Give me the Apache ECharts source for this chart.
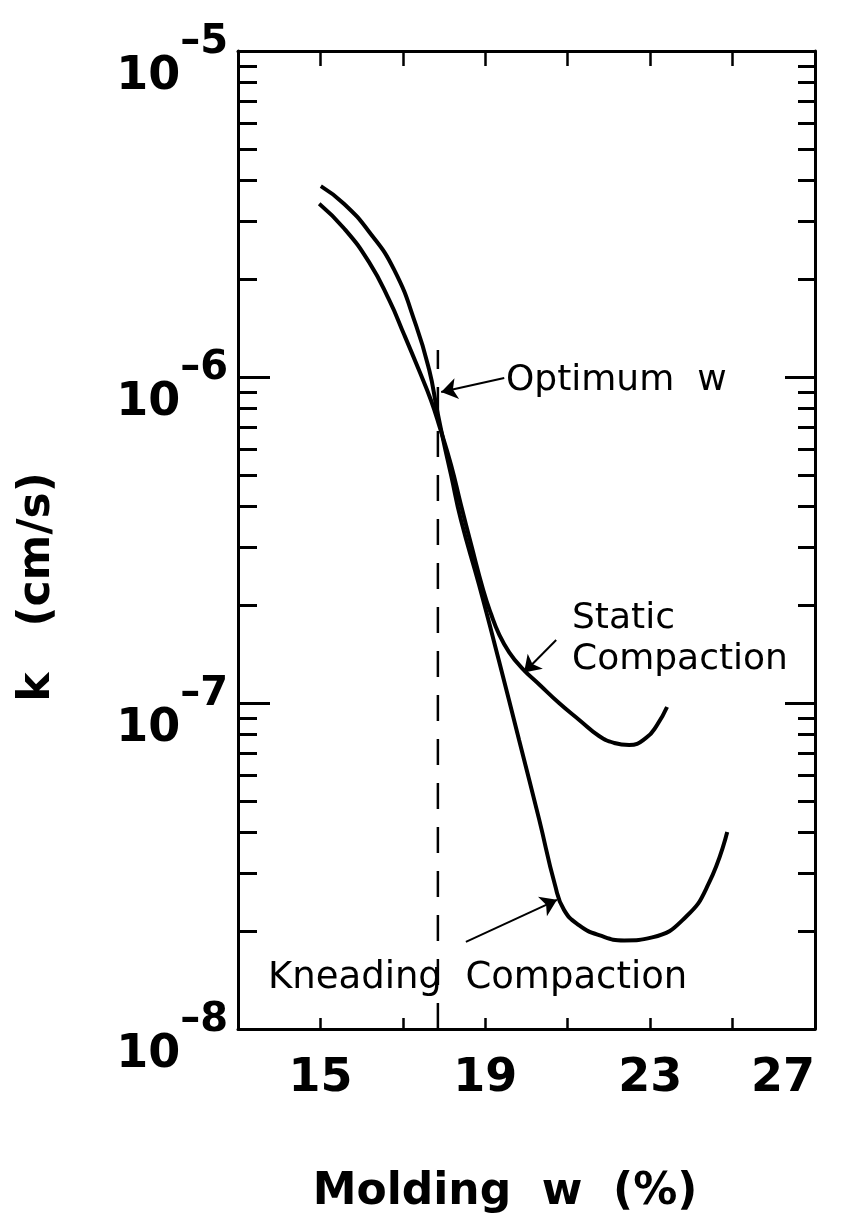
<!DOCTYPE html>
<html><head><meta charset="utf-8">
<script src="https://cdn.jsdelivr.net/npm/echarts@6/dist/echarts.min.js"></script>
<style>html,body{margin:0;padding:0;background:#fff}#c{width:845px;height:1224px}</style>
</head><body><div id="c"></div>
<script>
// ---- data ----
const staticW = [14.97, 15.57, 16.18, 16.67, 17.03, 17.39, 17.68, 17.90, 18.17, 18.41, 18.66, 18.95, 19.14, 19.33, 19.58, 19.89, 20.31, 20.79, 21.28, 21.76, 22.13, 22.49, 22.90, 23.17, 23.41];
const staticK = [3.40e-6, 2.86e-6, 2.25e-6, 1.72e-6, 1.35e-6, 1.05e-6, 8.5e-7, 6.98e-7, 5.37e-7, 4.05e-7, 3.05e-7, 2.22e-7, 1.875e-7, 1.63e-7, 1.43e-7, 1.28e-7, 1.14e-7, 1.0e-7, 8.87e-8, 7.92e-8, 7.54e-8, 7.43e-8, 7.81e-8, 8.57e-8, 9.72e-8];
const kneadW = [15.01, 15.57, 16.18, 16.79, 17.32, 17.64, 17.83, 17.98, 18.17, 18.41, 18.85, 19.33, 19.82, 20.31, 20.69, 20.91, 21.28, 21.76, 22.37, 23.05, 23.87, 24.43, 24.87];
const kneadK = [3.85e-6, 3.40e-6, 2.79e-6, 2.13e-6, 1.44e-6, 1.05e-6, 7.92e-7, 6.41e-7, 5.0e-7, 3.64e-7, 2.30e-7, 1.35e-7, 7.70e-8, 4.38e-8, 2.77e-8, 2.32e-8, 2.08e-8, 1.94e-8, 1.87e-8, 1.91e-8, 2.21e-8, 2.81e-8, 4.02e-8];
const optimumW = 17.85;
const optimumLineK = [1e-8, 1.21e-6];
const optimumArrow = [[19.46, 9.93e-7], [17.93, 8.99e-7]];
const staticArrow = [[20.72, 1.56e-7], [19.94, 1.24e-7]];
const kneadArrow = [[18.53, 1.85e-8], [20.74, 2.49e-8]];
const xTickValues = [15, 17, 19, 21, 23, 25];
const xLabelValues = [15, 19, 23, 27];
const minorDecades = [-8, -7, -6];
const minorMantissas = [2, 3, 4, 5, 6, 7, 8, 9];
const xName = 'Molding  w  (%)';
const yName = 'k   (cm/s)';
const optimumText = 'Optimum  w';
const staticText1 = 'Static';
const staticText2 = 'Compaction';
const kneadText = 'Kneading  Compaction';

// ---- chart ----
const FONT = "'DejaVu Sans', sans-serif";
const minorVals = [];
minorDecades.forEach(d => minorMantissas.forEach(m => minorVals.push(m * Math.pow(10, d))));
const zip = (a, b) => a.map((v, i) => [v, b[i]]);
const lineAxis = {lineStyle: {color: '#000', width: 3}};

const chart = echarts.init(document.getElementById('c'), null, {renderer: 'canvas'});
const yBase = {type: 'log', logBase: 10, min: 1e-8, max: 1e-5, splitLine: {show: false}};
chart.setOption({
  backgroundColor: '#fff',
  animation: false,
  grid: {left: 238, right: 30, top: 51, bottom: 195},
  xAxis: [
    {type: 'value', position: 'bottom', min: 13, max: 27, splitLine: {show: false},
     axisLine: lineAxis,
     axisTick: {inside: true, length: 11, customValues: xTickValues, lineStyle: {color: '#000', width: 2.5}},
     axisLabel: {customValues: xLabelValues, color: '#000', fontFamily: FONT, fontWeight: 'bold',
                 fontSize: 46, margin: 27, alignMaxLabel: 'right'}},
    {type: 'value', position: 'top', min: 13, max: 27, splitLine: {show: false},
     axisLine: lineAxis,
     axisTick: {inside: true, length: 15, customValues: xTickValues, lineStyle: {color: '#000', width: 2.5}},
     axisLabel: {show: false}}
  ],
  yAxis: [
    Object.assign({}, yBase, {position: 'left', axisLine: lineAxis,
      axisTick: {inside: true, length: 32, lineStyle: {color: '#000', width: 3}},
      axisLabel: {color: '#000', margin: 10, showMinLabel: true, showMaxLabel: true,
        formatter: v => '{b|10}{e|\u2013' + Math.abs(Math.round(Math.log10(v))) + '}',
        rich: {
          b: {fontFamily: FONT, fontWeight: 'bold', fontSize: 46, lineHeight: 46, padding: [52, 0, 0, 0], color: '#000'},
          e: {fontFamily: FONT, fontWeight: 'bold', fontSize: 40, lineHeight: 40, padding: [0, 0, 16, 0], color: '#000'}
        }}}),
    Object.assign({}, yBase, {position: 'left', axisLine: {show: false},
      axisTick: {inside: true, length: 19, customValues: minorVals, lineStyle: {color: '#000', width: 3}},
      axisLabel: {show: false}}),
    Object.assign({}, yBase, {position: 'right', axisLine: lineAxis,
      axisTick: {inside: true, length: 30, lineStyle: {color: '#000', width: 3}},
      axisLabel: {show: false}}),
    Object.assign({}, yBase, {position: 'right', axisLine: {show: false},
      axisTick: {inside: true, length: 17, customValues: minorVals, lineStyle: {color: '#000', width: 3}},
      axisLabel: {show: false}})
  ],
  series: [
    {type: 'line', name: 'Static Compaction', data: zip(staticW, staticK), smooth: 0.5,
     showSymbol: false, lineStyle: {color: '#000', width: 4}},
    {type: 'line', name: 'Kneading Compaction', data: zip(kneadW, kneadK), smooth: 0.5,
     showSymbol: false, lineStyle: {color: '#000', width: 4}},
    {type: 'line', name: 'Optimum w', data: optimumLineK.map(k => [optimumW, k]),
     showSymbol: false, lineStyle: {color: '#000', width: 2.5, type: [26, 18]},
     markLine: {
       silent: true, animation: false, label: {show: false},
       lineStyle: {color: '#000', width: 2, type: 'solid'},
       data: [
         [{coord: optimumArrow[0], symbol: 'none'}, {coord: optimumArrow[1], symbol: 'arrow', symbolSize: 16}],
         [{coord: staticArrow[0], symbol: 'none'}, {coord: staticArrow[1], symbol: 'arrow', symbolSize: 16}],
         [{coord: kneadArrow[0], symbol: 'none', lineStyle: {curveness: 0.17}}, {coord: kneadArrow[1], symbol: 'arrow', symbolSize: 16}]
       ]
     }}
  ],
  graphic: [
    {type: 'text', x: 38, y: 587, rotation: Math.PI / 2,
     style: {text: yName, fill: '#000', font: 'bold 44px ' + FONT, align: 'center', verticalAlign: 'middle'}},
    {type: 'text', x: 505, y: 1193,
     style: {text: xName, fill: '#000', font: 'bold 44px ' + FONT, align: 'center', verticalAlign: 'middle'}},
    {type: 'text', x: 506, y: 381,
     style: {text: optimumText, fill: '#000', font: '36px ' + FONT, align: 'left', verticalAlign: 'middle'}},
    {type: 'text', x: 572, y: 619,
     style: {text: staticText1, fill: '#000', font: '36px ' + FONT, align: 'left', verticalAlign: 'middle'}},
    {type: 'text', x: 572, y: 660,
     style: {text: staticText2, fill: '#000', font: '36px ' + FONT, align: 'left', verticalAlign: 'middle'}},
    {type: 'text', x: 268, y: 978,
     style: {text: kneadText, fill: '#000', font: '37px ' + FONT, align: 'left', verticalAlign: 'middle'}}
  ]
});
</script></body></html>
